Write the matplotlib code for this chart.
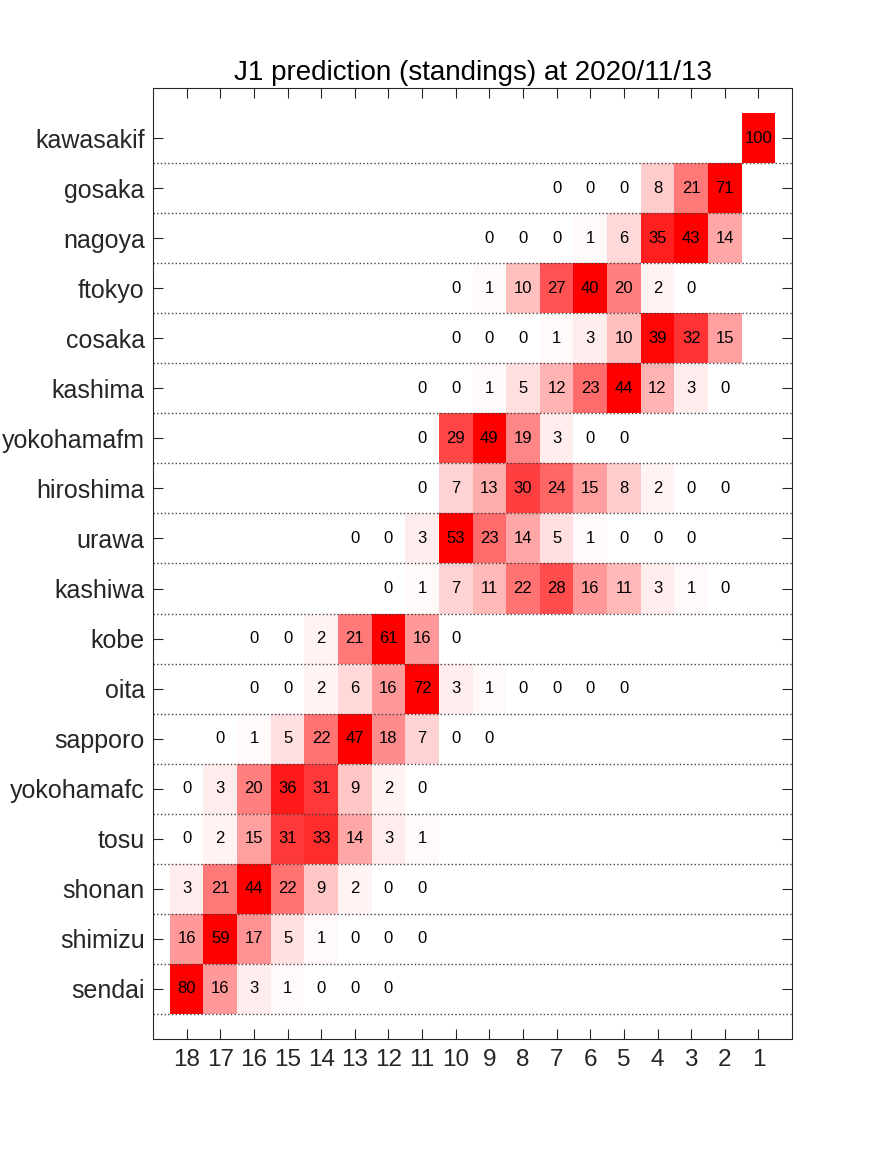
import numpy as np
import matplotlib.pyplot as plt
from matplotlib.colors import LinearSegmentedColormap

plt.rcParams['font.family'] = ['Liberation Sans', 'DejaVu Sans']

title = "J1 prediction (standings) at 2020/11/13"
teams = ['kawasakif', 'gosaka', 'nagoya', 'ftokyo', 'cosaka', 'kashima',
         'yokohamafm', 'hiroshima', 'urawa', 'kashiwa', 'kobe', 'oita',
         'sapporo', 'yokohamafc', 'tosu', 'shonan', 'shimizu', 'sendai']
ranks = list(range(18, 0, -1))   # columns left -> right

# lowest standing shown for each team, then the probabilities (%) going up the table
first_rank = [1, 7, 9, 10, 10, 11, 11, 11, 13, 12, 16, 16, 17, 18, 18, 18, 18, 18]
probs = [
    [100],
    [0, 0, 0, 8, 21, 71],
    [0, 0, 0, 1, 6, 35, 43, 14],
    [0, 1, 10, 27, 40, 20, 2, 0],
    [0, 0, 0, 1, 3, 10, 39, 32, 15],
    [0, 0, 1, 5, 12, 23, 44, 12, 3, 0],
    [0, 29, 49, 19, 3, 0, 0],
    [0, 7, 13, 30, 24, 15, 8, 2, 0, 0],
    [0, 0, 3, 53, 23, 14, 5, 1, 0, 0, 0],
    [0, 1, 7, 11, 22, 28, 16, 11, 3, 1, 0],
    [0, 0, 2, 21, 61, 16, 0],
    [0, 0, 2, 6, 16, 72, 3, 1, 0, 0, 0, 0],
    [0, 1, 5, 22, 47, 18, 7, 0, 0],
    [0, 3, 20, 36, 31, 9, 2, 0],
    [0, 2, 15, 31, 33, 14, 3, 1],
    [3, 21, 44, 22, 9, 2, 0, 0],
    [16, 59, 17, 5, 1, 0, 0, 0],
    [80, 16, 3, 1, 0, 0, 0],
]

# build grid (rows = teams, cols = ranks 18..1), NaN where no prediction
grid = np.full((len(teams), len(ranks)), np.nan)
for i, (r0, vals) in enumerate(zip(first_rank, probs)):
    for k, v in enumerate(vals):
        grid[i, ranks.index(r0 - k)] = v

cmap = LinearSegmentedColormap.from_list('wr', ['#ffffff', '#ff0000'])
cmap.set_bad('white')

fig = plt.figure(figsize=(8.75, 11.67), dpi=100)
ax = fig.add_axes([0.1749, 0.1097, 0.7303, 0.8149])

x = np.arange(1, len(ranks) + 1)
y = np.arange(1, len(teams) + 1)
ax.pcolormesh(np.arange(0.5, len(ranks) + 1), np.arange(0.5, len(teams) + 1),
              np.ma.masked_invalid(grid), cmap=cmap, vmin=0, vmax=40,
              shading='flat')

for i in range(len(teams)):
    for j in range(len(ranks)):
        if not np.isnan(grid[i, j]):
            ax.text(x[j], y[i], '%d' % grid[i, j], ha='center', va='center',
                    fontsize=12, color='black')

# dotted separators between rows
for yy in y + 0.5:
    ax.axhline(yy, color='0.25', linestyle=':', linewidth=1)

ax.set_xlim(0, len(ranks) + 1)
ax.set_ylim(len(teams) + 1, 0)
ax.set_xticks(x)
ax.set_xticklabels([str(r) for r in ranks])
ax.set_yticks(y)
ax.set_yticklabels(teams)
ax.tick_params(axis='x', direction='in', length=7, width=0.8, top=True,
               labelsize=17.5, pad=7, colors='0.15')
ax.tick_params(axis='y', direction='in', length=7, width=0.8, right=True,
               labelsize=18, pad=6, colors='0.15')
for s in ax.spines.values():
    s.set_color('0.15')
    s.set_linewidth(0.8)

ax.set_title(title, fontsize=20, pad=6)

fig.savefig('out.png', dpi=100)
